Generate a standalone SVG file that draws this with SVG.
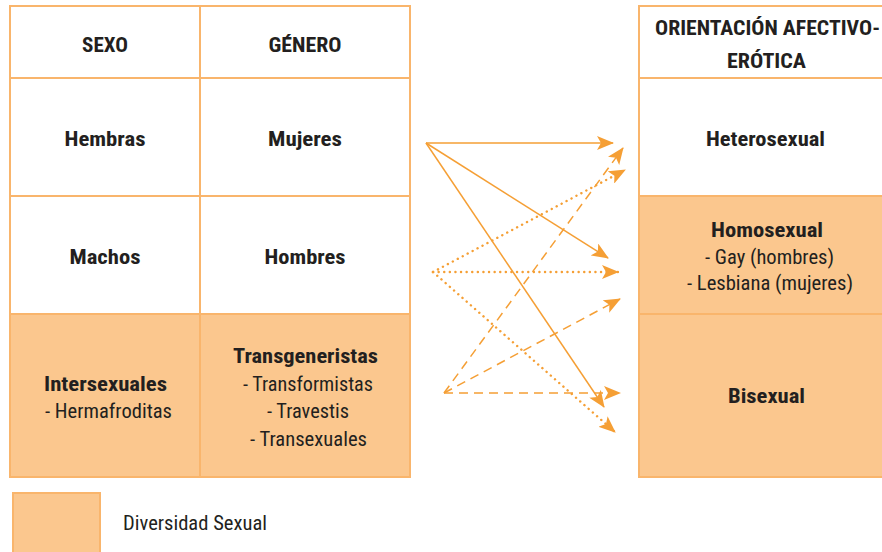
<svg xmlns="http://www.w3.org/2000/svg" width="882" height="552" viewBox="0 0 882 552">
<style>
.cell{stroke:#F9B56C;stroke-width:2}
.w{fill:#FFFFFF}
.o{fill:#FBC78E}
text{font-family:"Liberation Sans Narrow","Roboto Condensed",Roboto,"Liberation Sans",Arial,sans-serif;fill:#231F20;text-anchor:middle;font-size:21px}
.b{font-weight:bold}
.c{fill:none;stroke:#F59F35;stroke-width:1.5}
.dot{stroke-dasharray:0.1 5.5;stroke-linecap:round;stroke-width:2.4}
.dash{stroke-dasharray:9 6}
</style>
<defs>
<marker id="ah" markerUnits="userSpaceOnUse" markerWidth="18" markerHeight="14" refX="16" refY="7" orient="auto">
<path d="M0,0 L17,7 L0,14 L4,7 Z" fill="#F59F35"/>
</marker>
</defs>
<rect width="882" height="552" fill="#FFFFFF"/>
<g id="sexo-header"><rect class="cell w" x="10" y="6" width="190" height="72"/><text class="b" x="105" y="52" textLength="46" lengthAdjust="spacingAndGlyphs">SEXO</text></g>
<g id="genero-header"><rect class="cell w" x="200" y="6" width="210" height="72"/><text class="b" x="305" y="52" textLength="73" lengthAdjust="spacingAndGlyphs">GÉNERO</text></g>
<g id="hembras"><rect class="cell w" x="10" y="78" width="190" height="118"/><text class="b" x="105" y="146" textLength="81" lengthAdjust="spacingAndGlyphs">Hembras</text></g>
<g id="mujeres"><rect class="cell w" x="200" y="78" width="210" height="118"/><text class="b" x="305" y="146" textLength="74" lengthAdjust="spacingAndGlyphs">Mujeres</text></g>
<g id="machos"><rect class="cell w" x="10" y="196" width="190" height="118"/><text class="b" x="105" y="264" textLength="71" lengthAdjust="spacingAndGlyphs">Machos</text></g>
<g id="hombres"><rect class="cell w" x="200" y="196" width="210" height="118"/><text class="b" x="305" y="264" textLength="81" lengthAdjust="spacingAndGlyphs">Hombres</text></g>
<g id="intersexuales"><rect class="cell o" x="10" y="314" width="190" height="163"/><text class="b" x="105.5" y="391" textLength="123" lengthAdjust="spacingAndGlyphs">Intersexuales</text><text x="108.5" y="418" textLength="127" lengthAdjust="spacingAndGlyphs">- Hermafroditas</text></g>
<g id="transgeneristas"><rect class="cell o" x="200" y="314" width="210" height="163"/><text class="b" x="305.5" y="363" textLength="145" lengthAdjust="spacingAndGlyphs">Transgeneristas</text><text x="308" y="391" textLength="130" lengthAdjust="spacingAndGlyphs">- Transformistas</text><text x="308" y="418" textLength="82" lengthAdjust="spacingAndGlyphs">- Travestis</text><text x="308.5" y="446" textLength="117" lengthAdjust="spacingAndGlyphs">- Transexuales</text></g>
<g id="orientacion-header"><rect class="cell w" x="639" y="6" width="260" height="72"/><text class="b" x="767.5" y="35" textLength="225" lengthAdjust="spacingAndGlyphs">ORIENTACIÓN AFECTIVO-</text><text class="b" x="766.5" y="68" textLength="79" lengthAdjust="spacingAndGlyphs">ERÓTICA</text></g>
<g id="heterosexual"><rect class="cell w" x="639" y="78" width="260" height="118"/><text class="b" x="765.5" y="146" textLength="119" lengthAdjust="spacingAndGlyphs">Heterosexual</text></g>
<g id="homosexual"><rect class="cell o" x="639" y="196" width="260" height="118"/><text class="b" x="767" y="237" textLength="112" lengthAdjust="spacingAndGlyphs">Homosexual</text><text x="769.5" y="264" textLength="129" lengthAdjust="spacingAndGlyphs">- Gay (hombres)</text><text x="770" y="290" textLength="166" lengthAdjust="spacingAndGlyphs">- Lesbiana (mujeres)</text></g>
<g id="bisexual"><rect class="cell o" x="639" y="314" width="260" height="163"/><text class="b" x="766.5" y="403" textLength="77" lengthAdjust="spacingAndGlyphs">Bisexual</text></g>
<g id="connectors">
<line class="c" x1="426" y1="143" x2="613" y2="143" marker-end="url(#ah)"/>
<line class="c" x1="426" y1="143" x2="608" y2="258" marker-end="url(#ah)"/>
<line class="c" x1="426" y1="143" x2="604" y2="407" marker-end="url(#ah)"/>
<line class="c dot" x1="433" y1="272" x2="625" y2="170" marker-end="url(#ah)"/>
<line class="c dot" x1="433" y1="272" x2="618" y2="272" marker-end="url(#ah)"/>
<line class="c dot" x1="433" y1="272" x2="615" y2="432" marker-end="url(#ah)"/>
<line class="c dash" x1="444" y1="393" x2="623" y2="148" marker-end="url(#ah)"/>
<line class="c dash" x1="444" y1="393" x2="620" y2="299" marker-end="url(#ah)"/>
<line class="c dash" x1="444" y1="393" x2="620" y2="393" marker-end="url(#ah)"/>
</g>
<g id="legend"><rect class="cell o" x="13" y="493" width="87" height="70"/><text x="195" y="530" textLength="144" lengthAdjust="spacingAndGlyphs" style="font-size:20px">Diversidad Sexual</text></g>
</svg>
